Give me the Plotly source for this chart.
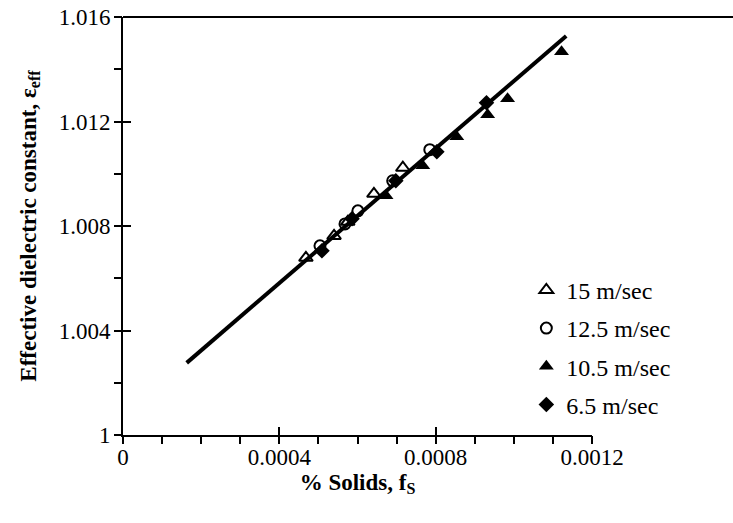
import plotly.graph_objects as go

# 15 m/sec (open triangles)
x15 = [0.000468, 0.000540, 0.000575, 0.000642, 0.000716]
y15 = [1.00678, 1.00762, 1.00816, 1.00923, 1.01023]
# 12.5 m/sec (open circles)
x125 = [0.000504, 0.000568, 0.000601, 0.000690, 0.000785]
y125 = [1.00724, 1.00808, 1.00858, 1.00973, 1.01092]
# 10.5 m/sec (filled triangles)
x105 = [0.000673, 0.000767, 0.000854, 0.000933, 0.000984, 0.001122]
y105 = [1.00916, 1.01031, 1.01142, 1.01226, 1.01287, 1.01467]
# 6.5 m/sec (filled diamonds)
x65 = [0.000509, 0.000586, 0.000698, 0.000803, 0.000930]
y65 = [1.00705, 1.00828, 1.00973, 1.01084, 1.01272]
# fitted line
fit_x = [0.000163, 0.001134]
fit_y = [1.00276, 1.01527]

xtick_vals = [0, 0.0004, 0.0008, 0.0012]
xtick_text = ["0", "0.0004", "0.0008", "0.0012"]
ytick_vals = [1.0, 1.004, 1.008, 1.012, 1.016]
ytick_text = ["1", "1.004", "1.008", "1.012", "1.016"]

FONT = "Liberation Serif"
FS = 23
W, H = 733, 523
ML, MR, MT, MB = 123, 141, 17, 88

fig = go.Figure()
fig.add_trace(go.Scatter(x=fit_x, y=fit_y, mode="lines",
                         line=dict(color="black", width=4), showlegend=False))
fig.add_trace(go.Scatter(x=x15, y=y15, mode="markers", name="15 m/sec", legendgroup="a",
                         marker=dict(symbol="triangle-up-open", size=12, color="black",
                                     line=dict(width=2, color="black"))))
fig.add_trace(go.Scatter(x=x125, y=y125, mode="markers", name="12.5 m/sec", legendgroup="b",
                         marker=dict(symbol="circle-open", size=11, color="black",
                                     line=dict(width=2, color="black"))))
fig.add_trace(go.Scatter(x=x105, y=y105, mode="markers", name="10.5 m/sec", legendgroup="c",
                         marker=dict(symbol="triangle-up", size=13, color="black")))
fig.add_trace(go.Scatter(x=x65, y=y65, mode="markers", name="6.5 m/sec", legendgroup="d",
                         marker=dict(symbol="diamond", size=12, color="black")))
# invisible trace to carry the overlay axes (outer half of crossing ticks)
fig.add_trace(go.Scatter(x=[0], y=[1], mode="markers", xaxis="x2", yaxis="y2",
                         marker=dict(opacity=0), showlegend=False, hoverinfo="skip"))

# top frame line of the plot area, running out to the right edge of the chart
top_end = (W - ML) / (W - ML - MR)
fig.add_shape(type="line", xref="paper", yref="paper", x0=0, x1=top_end, y0=1, y1=1,
              line=dict(color="black", width=2), layer="above")

fig.update_layout(
    width=W, height=H,
    margin=dict(l=ML, r=MR, t=MT, b=MB, autoexpand=False),
    paper_bgcolor="white", plot_bgcolor="white",
    font=dict(family=FONT, size=FS, color="black"),
    showlegend=True,
    legend=dict(x=0.86, y=0.40, xanchor="left", yanchor="top",
                font=dict(family=FONT, size=24, color="black"),
                bgcolor="white", borderwidth=0,
                traceorder="grouped", tracegroupgap=4),
    xaxis=dict(range=[0, 0.0012], tickvals=xtick_vals, ticktext=xtick_text,
               automargin=False, ticklabeloverflow="allow", ticklabelstandoff=0,
               showgrid=False, zeroline=False, showline=True, linecolor="black",
               linewidth=2, mirror=False, ticks="inside", ticklen=8, tickwidth=2,
               tickcolor="black",
               minor=dict(dtick=0.0001, ticks="outside", ticklen=7, tickwidth=2,
                          tickcolor="black", showgrid=False),
               title=dict(text="<b>% Solids, f<sub>S</sub></b>", standoff=0,
                          font=dict(family=FONT, size=FS))),
    yaxis=dict(range=[1.0, 1.016], tickvals=ytick_vals, ticktext=ytick_text,
               automargin=False, ticklabeloverflow="allow", ticklabelstandoff=6,
               showgrid=False, zeroline=False, showline=True, linecolor="black",
               linewidth=2, mirror=False, ticks="inside", ticklen=8, tickwidth=2,
               tickcolor="black",
               minor=dict(dtick=0.002, ticks="outside", ticklen=7, tickwidth=2,
                          tickcolor="black", showgrid=False),
               title=dict(text="<b>Effective dielectric constant, ε<sub>eff</sub></b>",
                          standoff=16, font=dict(family=FONT, size=FS))),
    xaxis2=dict(overlaying="x", range=[0, 0.0012], tickvals=xtick_vals,
                automargin=False,
                showticklabels=False, ticks="outside", ticklen=8, tickwidth=2,
                tickcolor="black", showgrid=False, zeroline=False, showline=False,
                side="bottom"),
    yaxis2=dict(overlaying="y", range=[1.0, 1.016], tickvals=ytick_vals,
                automargin=False,
                showticklabels=False, ticks="outside", ticklen=8, tickwidth=2,
                tickcolor="black", showgrid=False, zeroline=False, showline=False,
                side="left"),
)

fig.write_html("out.html", config={"displayModeBar": False},
               post_script="document.body.style.margin='0';document.body.style.padding='0';")
